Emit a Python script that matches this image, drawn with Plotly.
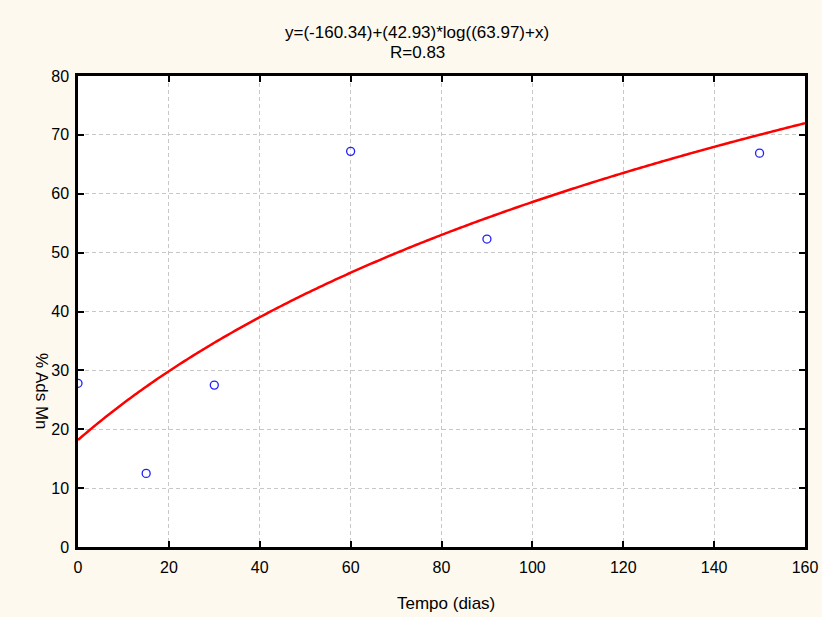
import numpy as np
import plotly.graph_objects as go

# Observed data
tempo_dias = [0, 15, 30, 60, 90, 150]
ads_mn = [27.8, 12.5, 27.5, 67.2, 52.3, 66.9]

# Fitted model coefficients (from the chart title): y = a + b*log(c + x)
fit_a = -160.34
fit_b = 42.93
fit_c = 63.97
fit_r = 0.83

x_ticks = [0, 20, 40, 60, 80, 100, 120, 140, 160]
y_ticks = [0, 10, 20, 30, 40, 50, 60, 70, 80]

x_fit = np.linspace(0, 160, 321)
y_fit = fit_a + fit_b * np.log(fit_c + x_fit)

bg = "#FEF9EE"
font_family = "Liberation Sans, Arial, sans-serif"

L, R, T, B = 78, 17, 76, 70
W, H = 822, 617
PW, PH = W - L - R, H - T - B


def px(xp):
    return (xp - L) / PW


def py(yp):
    return (H - B - yp) / PH


fig = go.Figure()
fig.add_trace(go.Scatter(x=x_fit, y=y_fit, mode="lines",
                         line=dict(color="#FF0000", width=2.5, simplify=False),
                         hoverinfo="skip", showlegend=False))
fig.add_trace(go.Scatter(x=tempo_dias, y=ads_mn, mode="markers",
                         marker=dict(symbol="circle-open", size=8,
                                     color="#2020FF", line=dict(width=1.3, color="#2020FF")),
                         showlegend=False))

axis_common = dict(
    showline=True, linecolor="black", linewidth=2.5, mirror="ticks",
    ticks="inside", ticklen=6, tickwidth=2, tickcolor="black",
    showgrid=True, gridcolor="#C8C8C8", griddash="4px,3px", gridwidth=1,
    zeroline=False, automargin=False,
    tickfont=dict(family=font_family, size=16, color="black"),
)

fig.update_xaxes(range=[0, 160], tickvals=x_ticks, ticklabelstandoff=4, **axis_common)
fig.update_yaxes(range=[0, 80], tickvals=y_ticks, ticklabelstandoff=3, **axis_common)

fig.update_layout(
    width=W, height=H, autosize=False,
    margin=dict(l=L, r=R, t=T, b=B, autoexpand=False),
    paper_bgcolor=bg, plot_bgcolor="white",
    font=dict(family=font_family, size=17, color="black"),
    annotations=[
        dict(text=f"y=({fit_a})+({fit_b})*log(({fit_c})+x)",
             xref="paper", yref="paper", x=px(417), y=py(32),
             xanchor="center", yanchor="middle", showarrow=False,
             font=dict(size=17, family=font_family)),
        dict(text=f"R={fit_r}",
             xref="paper", yref="paper", x=px(417), y=py(52),
             xanchor="center", yanchor="middle", showarrow=False,
             font=dict(size=17, family=font_family)),
        dict(text="Tempo (dias)", xref="paper", yref="paper",
             x=px(446), y=py(603),
             xanchor="center", yanchor="middle", showarrow=False,
             font=dict(size=17, family=font_family)),
        dict(text="% Ads Mn", xref="paper", yref="paper",
             x=px(42), y=py(391), textangle=90,
             xanchor="center", yanchor="middle", showarrow=False,
             font=dict(size=17, family=font_family)),
    ],
)

fig.write_html("out.html",
               config={"displayModeBar": False},
               post_script="document.body.style.margin='0px';document.body.style.overflow='hidden';")
